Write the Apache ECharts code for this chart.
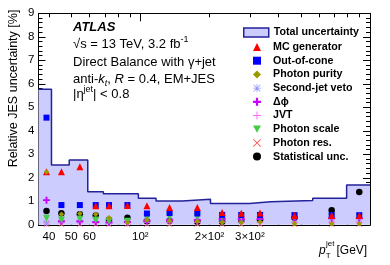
<!DOCTYPE html>
<html><head><meta charset="utf-8">
<script src="https://cdn.jsdelivr.net/npm/echarts@6/dist/echarts.min.js"></script>
<style>html,body{margin:0;padding:0;background:#fff}#c{width:390px;height:265px}</style>
</head><body><div id="c"></div>
<script>
// ---- data ----
const binEdges = [36, 41, 49, 59, 69, 78, 98, 117, 152, 202, 250, 299, 369, 563, 791, 1000];
const binCenters = [39, 45.3, 54.5, 63.9, 73, 87.8, 106.8, 134, 177, 227, 275, 332, 469, 681, 898];
const totalUnc = [5.77, 2.54, 2.76, 1.41, 1.32, 1.32, 1.13, 1.01, 1.09, 0.91, 0.91, 0.98, 1.03, 1.13, 1.69];
const mcGenerator = [2.26, 2.26, 2.47, 0.81, 0.81, 0.82, 0.81, 0.74, 0.74, 0.52, 0.49, 0.50, 0.40, 0.40, 0.40];
const outOfCone = [4.56, 0.84, 0.84, 0.84, 0.84, 0.84, 0.48, 0.50, 0.48, 0.42, 0.42, 0.42, 0.41, 0.41, 0.41];
const photonPurity = [2.25, 0.45, 0.48, 0.45, 0.30, 0.10, 0.20, 0.17, 0.15, 0.10, 0.10, 0.12, 0.05, 0.04, 0.04];
const secondJetVeto = [0.10, 0.15, 0.15, 0.15, 0.12, 0.15, 0.20, 0.20, 0.20, 0.20, 0.20, 0.22, 0.25, 0.25, 0.25];
const deltaPhi = [1.05, 0.15, 0.15, 0.12, 0.10, 0.12, 0.18, 0.20, 0.20, 0.25, 0.25, 0.25, 0.28, 0.28, 0.28];
const jvt = [0.08, 0.10, 0.10, 0.10, 0.08, 0.08, 0.10, 0.10, 0.10, 0.10, 0.10, 0.10, 0.10, 0.10, 0.10];
const photonScale = [0.28, 0.20, 0.25, 0.20, 0.15, 0.15, 0.30, 0.34, 0.34, 0.34, 0.34, 0.40, 0.36, 0.34, 0.34];
const photonRes = [0.03, 0.03, 0.03, 0.03, 0.03, 0.03, 0.03, 0.03, 0.03, 0.03, 0.03, 0.03, 0.03, 0.03, 0.03];
const statUnc = [0.59, 0.49, 0.45, 0.40, 0.22, 0.30, 0.15, 0.17, 0.13, 0.13, 0.18, 0.20, 0.30, 0.62, 1.40];
const xLabelValues = [40, 50, 60, 100, 200, 300];
const xLabelTexts = ['40', '50', '60', '10²', '2×10²', '3×10²'];
const xMinorTicks = [40, 50, 60, 70, 80, 90, 200, 300, 400, 500, 600, 700, 800, 900];
const xMajorTicks = [100];

const FONT = '"Liberation Sans", Arial, Helvetica, sans-serif';
const chart = echarts.init(document.getElementById('c'), null, {renderer: 'canvas'});

const stepData = binEdges.map((e, i) => [e, totalUnc[Math.min(i, totalUnc.length - 1)]]);
const pts = arr => binCenters.map((x, i) => [x, arr[i]]);

const P_DOWN = 'path://M0,0L10,0L5,9Z';
const P_PLUS = 'path://M3.6,0H6.4V3.6H10V6.4H6.4V10H3.6V6.4H0V3.6H3.6Z';
const P_THINPLUS = 'path://M4.4,0H5.6V4.4H10V5.6H5.6V10H4.4V5.6H0V4.4H4.4Z';
const P_X = 'path://M0.8,0L5,4.2L9.2,0L10,0.8L5.8,5L10,9.2L9.2,10L5,5.8L0.8,10L0,9.2L4.2,5L0,0.8Z';
const P_AST = 'path://M4.5,0H5.5V4.5H10V5.5H5.5V10H4.5V5.5H0V4.5H4.5Z M1.2,0.5L5,4.3L8.8,0.5L9.5,1.2L5.7,5L9.5,8.8L8.8,9.5L5,5.7L1.2,9.5L0.5,8.8L4.3,5L0.5,1.2Z';

function sc(name, data, symbol, size, color, z) {
  return {name, type: 'scatter', data: pts(data), symbol, symbolSize: size,
    itemStyle: {color, opacity: 1}, z, xAxisIndex: 0, yAxisIndex: 0, silent: true};
}

// text helper with measured widths
const mctx = document.createElement('canvas').getContext('2d');
function runText(x, y, segs) {
  let cx = x; const out = [];
  segs.forEach(s => {
    const size = s.size || 12.5, st = s.style || 'normal', wt = s.weight || 'normal';
    mctx.font = `${st} ${wt} ${size}px ${FONT}`;
    const w = mctx.measureText(s.text).width;
    out.push({type: 'text', x: cx, y: y + (s.dy || 0), z: 100,
      style: {text: s.text, fontSize: size, fontStyle: st, fontWeight: wt, fontFamily: FONT,
        fill: '#000', align: 'left', verticalAlign: 'middle'}});
    cx += w + (s.gap || 0);
  });
  return out;
}

const TS = 13, SS = 9;
const graphics = [].concat(
  runText(73, 27, [{text: 'ATLAS', size: 13, style: 'italic', weight: 'bold'}]),
  runText(73, 44, [{text: '√s = 13 TeV, 3.2 fb', size: TS}, {text: '-1', size: SS, dy: -4.5}]),
  runText(73, 62, [{text: 'Direct Balance with γ+jet', size: TS}]),
  runText(73, 79.5, [{text: 'anti-', size: TS}, {text: 'k', size: TS, style: 'italic'}, {text: 't', size: SS, style: 'italic', dy: 3.5},
    {text: ', ', size: TS}, {text: 'R', size: TS, style: 'italic'}, {text: ' = 0.4, EM+JES', size: TS}]),
  runText(73, 94, [{text: '|η', size: TS}, {text: 'jet', size: SS, dy: -4.5}, {text: '| < 0.8', size: TS}]),
  runText(319, 251, [{text: 'p', size: 12, style: 'italic'}, {text: 'T', size: 8, dy: 5, gap: -4.5}, {text: 'jet', size: 8, dy: -7, gap: 2}, {text: '[GeV]', size: 12}]),
  [{type: 'text', x: 14, y: 88.5, rotation: Math.PI / 2, z: 100,
    style: {text: 'Relative JES uncertainty [%]', fontSize: 12.5, fontFamily: FONT, fill: '#000', align: 'center', verticalAlign: 'middle'}}]
);

const axisCommon = {
  axisLine: {show: true, lineStyle: {color: '#000', width: 1}},
  splitLine: {show: false}
};
const xBase = {type: 'log', logBase: 10, min: 36, max: 1000, gridIndex: 0};
const yBase = {type: 'value', min: 0, max: 9, interval: 1, gridIndex: 0};

const option = {
  animation: false,
  backgroundColor: '#fff',
  grid: {left: 38.5, right: 20, top: 13.3, bottom: 40.2, containLabel: false},
  xAxis: [
    Object.assign({}, xBase, axisCommon, {position: 'bottom',
      axisTick: {show: true, inside: true, length: 4, customValues: xMinorTicks, lineStyle: {color: '#000'}},
      axisLabel: {show: true, customValues: xLabelValues, margin: 6, fontSize: 11.5, fontFamily: FONT, color: '#000',
        formatter: v => { const i = xLabelValues.findIndex(t => Math.abs(t - v) < 1e-6 * t); return i >= 0 ? xLabelTexts[i] : ''; }}}),
    Object.assign({}, xBase, axisCommon, {position: 'bottom',
      axisTick: {show: true, inside: true, length: 8, customValues: xMajorTicks, lineStyle: {color: '#000'}},
      axisLabel: {show: false}}),
    Object.assign({}, xBase, axisCommon, {position: 'top',
      axisTick: {show: true, inside: true, length: 4, customValues: xMinorTicks, lineStyle: {color: '#000'}},
      axisLabel: {show: false}}),
    Object.assign({}, xBase, axisCommon, {position: 'top',
      axisTick: {show: true, inside: true, length: 8, customValues: xMajorTicks, lineStyle: {color: '#000'}},
      axisLabel: {show: false}})
  ],
  yAxis: [
    Object.assign({}, yBase, axisCommon, {position: 'left',
      axisTick: {show: true, inside: true, length: 7, lineStyle: {color: '#000'}},
      minorTick: {show: true, splitNumber: 5, length: 4, lineStyle: {color: '#000'}},
      axisLabel: {show: true, margin: 4, fontSize: 11.5, fontFamily: FONT, color: '#000'}}),
    Object.assign({}, yBase, axisCommon, {position: 'right',
      axisTick: {show: true, inside: true, length: 7, lineStyle: {color: '#000'}},
      minorTick: {show: true, splitNumber: 5, length: 4, lineStyle: {color: '#000'}},
      axisLabel: {show: false}})
  ],
  legend: [
    {orient: 'vertical', left: 238, top: 22, itemWidth: 25, itemHeight: 9, itemGap: 2.7,
      textStyle: {fontSize: 10.7, fontWeight: 'bold', fontFamily: FONT, color: '#000', lineHeight: 11},
      data: [{name: 'Total uncertainty', icon: 'rect', itemStyle: {color: '#ccccff', borderColor: '#222299', borderWidth: 1.5}}],
      selectedMode: false},
    {orient: 'vertical', left: 248, top: 36.5, itemWidth: 8, itemHeight: 8, itemGap: 2.7,
      textStyle: {fontSize: 10.7, fontWeight: 'bold', fontFamily: FONT, color: '#000', lineHeight: 11, padding: [0, 0, 0, 7]},
      data: ['MC generator', 'Out-of-cone', 'Photon purity', 'Second-jet veto', 'Δϕ', 'JVT', 'Photon scale', 'Photon res.', 'Statistical unc.'],
      selectedMode: false}
  ],
  graphic: graphics,
  series: [
    {name: 'Total uncertainty', type: 'line', step: 'end', data: stepData, symbol: 'none', z: 1,
      xAxisIndex: 0, yAxisIndex: 0, silent: true,
      lineStyle: {color: '#222299', width: 1.5}, itemStyle: {color: '#ccccff'},
      areaStyle: {color: '#ccccff', opacity: 1}},
    sc('Statistical unc.', statUnc, 'circle', 6.5, '#000000', 3),
    sc('Photon res.', photonRes, P_X, 6, '#ff5555', 4),
    sc('JVT', jvt, P_THINPLUS, 7, '#ff66ff', 5),
    sc('Second-jet veto', secondJetVeto, P_AST, 6.5, '#9999ff', 6),
    sc('Δϕ', deltaPhi, P_PLUS, 7, '#cc00ff', 7),
    sc('Photon scale', photonScale, P_DOWN, 7, '#44cc44', 8),
    sc('Out-of-cone', outOfCone, 'rect', 6, '#0000ff', 9),
    sc('MC generator', mcGenerator, 'triangle', 7, '#ff0000', 10),
    sc('Photon purity', photonPurity, 'diamond', 5.5, '#999900', 11)
  ]
};
chart.setOption(option);
</script></body></html>
